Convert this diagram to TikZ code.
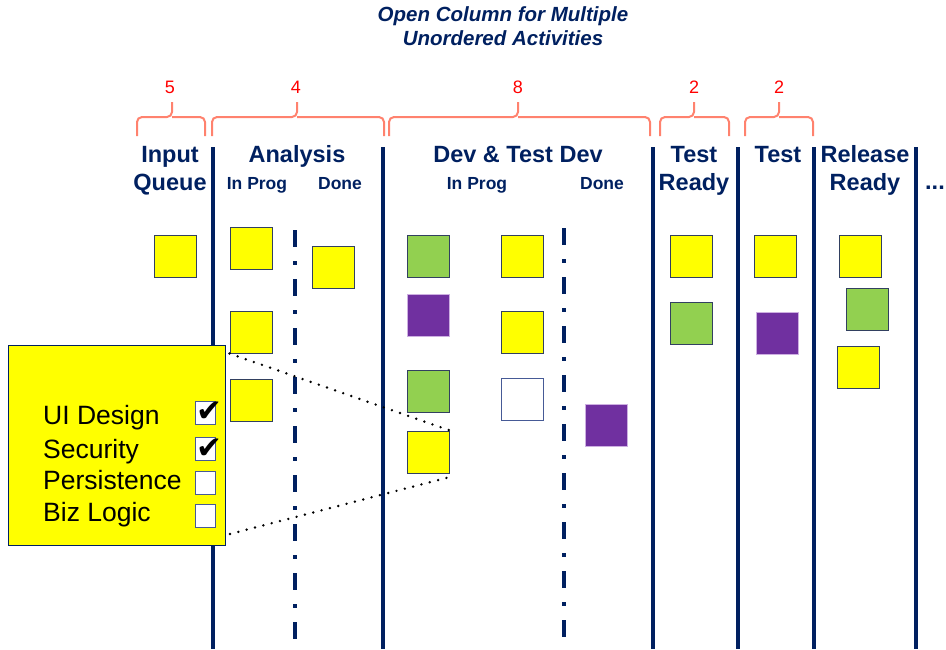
\documentclass[tikz,border=0pt]{standalone}
\usepackage{fontspec}
\setmainfont{Liberation Sans}
\newfontfamily\symfont{DejaVu Sans}
\definecolor{navy}{RGB}{0,32,96}
\definecolor{stickyyellow}{RGB}{255,255,0}
\definecolor{stickygreen}{RGB}{146,208,80}
\definecolor{stickypurple}{RGB}{112,48,160}
\definecolor{cardedge}{RGB}{50,64,96}
\definecolor{lavender}{RGB}{205,175,225}
\definecolor{whiteedge}{RGB}{70,90,150}
\definecolor{bracecol}{RGB}{255,130,110}
\definecolor{wipred}{RGB}{255,0,0}
\begin{document}
\begin{tikzpicture}[x=1pt,y=-1pt,
  hdr/.style={font=\fontsize{23.5}{24}\selectfont\bfseries, text=navy, anchor=base, inner sep=0pt},
  subhdr/.style={font=\fontsize{17.5}{18}\selectfont\bfseries, text=navy, anchor=base, inner sep=0pt},
  ttl/.style={font=\fontsize{20.5}{20}\selectfont\bfseries\itshape, text=navy, anchor=base, inner sep=0pt},
  wip/.style={font=\fontsize{18}{18}\selectfont, text=wipred, anchor=base, inner sep=0pt},
  card/.style={draw=cardedge, line width=1pt, minimum size=42pt, inner sep=0pt},
  ycard/.style={card, fill=stickyyellow},
  gcard/.style={card, fill=stickygreen},
  pcard/.style={card, fill=stickypurple, draw=lavender},
  wcard/.style={card, fill=white, draw=whiteedge},
  colline/.style={draw=navy, line width=4pt},
  sepline/.style={draw=navy, line width=4pt, dash pattern=on 17pt off 14pt on 4pt off 14pt},
  bracket/.style={draw=bracecol, line width=2pt, rounded corners=5pt},
  zoomline/.style={draw=black, line width=2.7pt, dash pattern=on 0pt off 8.6pt, line cap=round},
  bigcard/.style={draw=navy, line width=1pt, fill=stickyyellow, minimum width=217pt, minimum height=200pt, inner sep=0pt},
  task/.style={font=\fontsize{26.5}{26}\selectfont, text=black, anchor=base west, inner sep=0pt},
  chk/.style={draw=whiteedge, fill=white, line width=1pt, minimum width=20pt, minimum height=23pt, inner sep=0pt},
  tick/.style={font=\symfont\fontsize{31}{31}\selectfont, text=black, inner sep=0pt}
]
\useasboundingbox (0,0) rectangle (946,649);

% title
\node[ttl] (t1) at (503,21) {Open Column for Multiple};
\node[ttl] (t2) at (503,45) {Unordered Activities};

% WIP limits and brackets
\node[wip] (w1) at (170,93) {5};
\node[wip] (w2) at (296,93) {4};
\node[wip] (w3) at (518,93) {8};
\node[wip] (w4) at (694,93) {2};
\node[wip] (w5) at (779,93) {2};
\draw[bracket] (137,136) |- (172,117) -- (172,102);
\draw[bracket] (205,136) |- (172,117);
\draw[bracket] (212,136) |- (297,117) -- (297,102);
\draw[bracket] (384,136) |- (297,117);
\draw[bracket] (389,136) |- (518,117) -- (518,102);
\draw[bracket] (650,136) |- (518,117);
\draw[bracket] (660,136) |- (694,117) -- (694,102);
\draw[bracket] (729,136) |- (694,117);
\draw[bracket] (745,136) |- (779,117) -- (779,102);
\draw[bracket] (813,136) |- (779,117);

% headers
\node[hdr] (h1a) at (170,162) {Input};
\node[hdr] (h1b) at (170,190) {Queue};
\node[hdr] (h2) at (297,162) {Analysis};
\node[subhdr] (h2a) at (257,189) {In Prog};
\node[subhdr] (h2b) at (340,189) {Done};
\node[hdr] (h3) at (518,162) {Dev \& Test Dev};
\node[subhdr] (h3a) at (477,189) {In Prog};
\node[subhdr] (h3b) at (602,189) {Done};
\node[hdr] (h4a) at (694,162) {Test};
\node[hdr] (h4b) at (694,190) {Ready};
\node[hdr] (h5) at (778,162) {Test};
\node[hdr] (h6a) at (865,162) {Release};
\node[hdr] (h6b) at (865,190) {Ready};
\node[hdr] (h7) at (935,189) {...};

% column lines
\draw[colline] (213,147) -- (213,649);
\draw[colline] (383,147) -- (383,649);
\draw[colline] (653,147) -- (653,649);
\draw[colline] (738,147) -- (738,649);
\draw[colline] (814,147) -- (814,649);
\draw[colline] (916,147) -- (916,649);
\draw[sepline] (295,230) -- (295,649);
\draw[sepline] (564,228) -- (564,649);

% cards
\node[ycard] (in1) at (175,256) {};
\node[ycard] (a1) at (251,248) {};
\node[ycard] (a2) at (251,332) {};
\node[ycard] (a3) at (251,400) {};
\node[ycard] (ad1) at (333.5,267.5) {};
\node[gcard] (d1) at (428.5,256) {};
\node[pcard] (d2) at (428.5,315) {};
\node[gcard] (d3) at (428.5,391) {};
\node[ycard] (d4) at (428.5,452) {};
\node[ycard] (d5) at (522,256) {};
\node[ycard] (d6) at (522,332) {};
\node[wcard] (d7) at (522,399.5) {};
\node[pcard] (dd1) at (606.5,425) {};
\node[ycard] (tr1) at (691,256) {};
\node[gcard] (tr2) at (691,323.5) {};
\node[ycard] (ts1) at (775.5,256) {};
\node[pcard] (ts2) at (777.5,333) {};
\node[ycard] (r1) at (860,256) {};
\node[gcard] (r2) at (867,309) {};
\node[ycard] (r3) at (858.5,367) {};

% zoomed card
\node[bigcard] (big) at (116.5,445) {};
\node[task] (k1) at (43,424) {UI Design};
\node[task] (k2) at (43,458) {Security};
\node[task] (k3) at (43,489) {Persistence};
\node[task] (k4) at (43,521) {Biz Logic};
\node[chk] (c1) at (205,412.5) {};
\node[chk] (c2) at (205,449) {};
\node[chk] (c3) at (205,482.5) {};
\node[chk] (c4) at (205,515.5) {};
\node[tick] (x1) at (209,412) {✔};
\node[tick] (x2) at (209,448.5) {✔};

% zoom connectors
\coordinate (z1) at (230,534);
\coordinate (z2) at (450,477);
\draw[zoomline] (a2.south west) -- (d4.north east);
\draw[zoomline] (z1) -- (z2);
\end{tikzpicture}
\end{document}
